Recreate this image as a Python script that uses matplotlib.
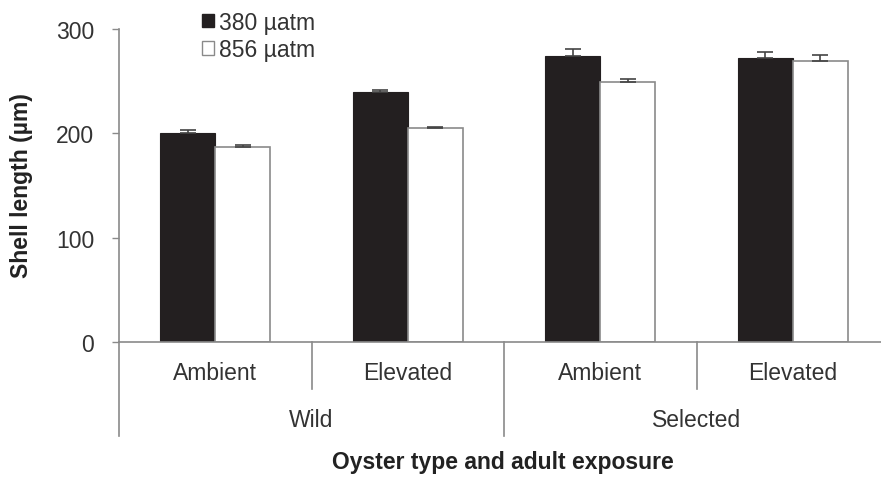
import numpy as np
import matplotlib
matplotlib.use("Agg")
from matplotlib import pyplot as plt
from matplotlib.patches import Patch

plt.rcParams['font.family'] = ['Liberation Sans', 'DejaVu Sans']

# data
exposure = ['Ambient', 'Elevated', 'Ambient', 'Elevated']
oyster = ['Wild', 'Selected']
low_co2 = [200, 240, 274, 272]
low_err = [3, 2, 7, 6]
high_co2 = [187, 205, 249, 269]
high_err = [1.5, 1, 3.5, 6]
series = ['380 µatm', '856 µatm']

grey = '#8a8a8a'
dark = '#231f20'
txt = '#333333'
fs = 16.5

fig = plt.figure(figsize=(8.81, 4.81), dpi=100)
ax = fig.add_axes([119/881, 1-343/481, 770/881, 313/481])

x = np.arange(len(exposure))
w = 0.285
ax.bar(x - w/2, low_co2, w, color=dark, edgecolor=dark, linewidth=0.8, zorder=2)
ax.bar(x + w/2, high_co2, w, color='white', edgecolor=grey, linewidth=1.2, zorder=2)
ax.errorbar(x - w/2, low_co2, yerr=[np.zeros(4), low_err], fmt='none',
            ecolor='#444444', elinewidth=1.2, capsize=5.5, capthick=1.2, zorder=3)
ax.errorbar(x + w/2, high_co2, yerr=[np.zeros(4), high_err], fmt='none',
            ecolor='#444444', elinewidth=1.2, capsize=5.5, capthick=1.2, zorder=3)

ax.set_xlim(-0.5, 3.5)
ax.set_ylim(0, 300)
ax.set_yticks([0, 100, 200, 300])
ax.tick_params(axis='y', length=5, width=1, color=grey, pad=13, labelsize=fs, labelcolor=txt)
ax.set_xticks([])
for s in ['top', 'right']:
    ax.spines[s].set_visible(False)
for s in ['left', 'bottom']:
    ax.spines[s].set_color(grey)
    ax.spines[s].set_linewidth(1.2)

# category separators below the axis
tr = ax.get_xaxis_transform()
for xs in [0.5, 2.5]:
    ax.plot([xs, xs], [0, -0.15], color=grey, lw=1.2, transform=tr, clip_on=False)
for xs in [-0.5, 1.5, 3.5]:
    ax.plot([xs, xs], [0, -0.30], color=grey, lw=1.2, transform=tr, clip_on=False)

for i, lab in enumerate(exposure):
    ax.text(i, -0.096, lab, transform=tr, ha='center', va='center', fontsize=fs, color=txt)
for j, lab in enumerate(oyster):
    ax.text(0.5 + 2*j, -0.249, lab, transform=tr, ha='center', va='center', fontsize=fs, color=txt)

fig.text((119+384)/881, 1-463/481, 'Oyster type and adult exposure', ha='center', va='center',
         fontsize=fs, fontweight='bold', color='#222222')
fig.text(22/881, 1-186/481, 'Shell length (µm)', rotation=90, ha='center', va='center',
         fontsize=fs, fontweight='bold', color='#222222')

handles = [Patch(facecolor=dark, edgecolor=dark), Patch(facecolor='white', edgecolor=grey)]
fig.legend(handles, series, loc='upper left', bbox_to_anchor=(181/881, 1+9/481),
           frameon=False, fontsize=fs, handlelength=0.55, handleheight=0.55,
           handletextpad=0.2, labelspacing=0.2, labelcolor=txt)

fig.savefig('out.png', dpi=100)
